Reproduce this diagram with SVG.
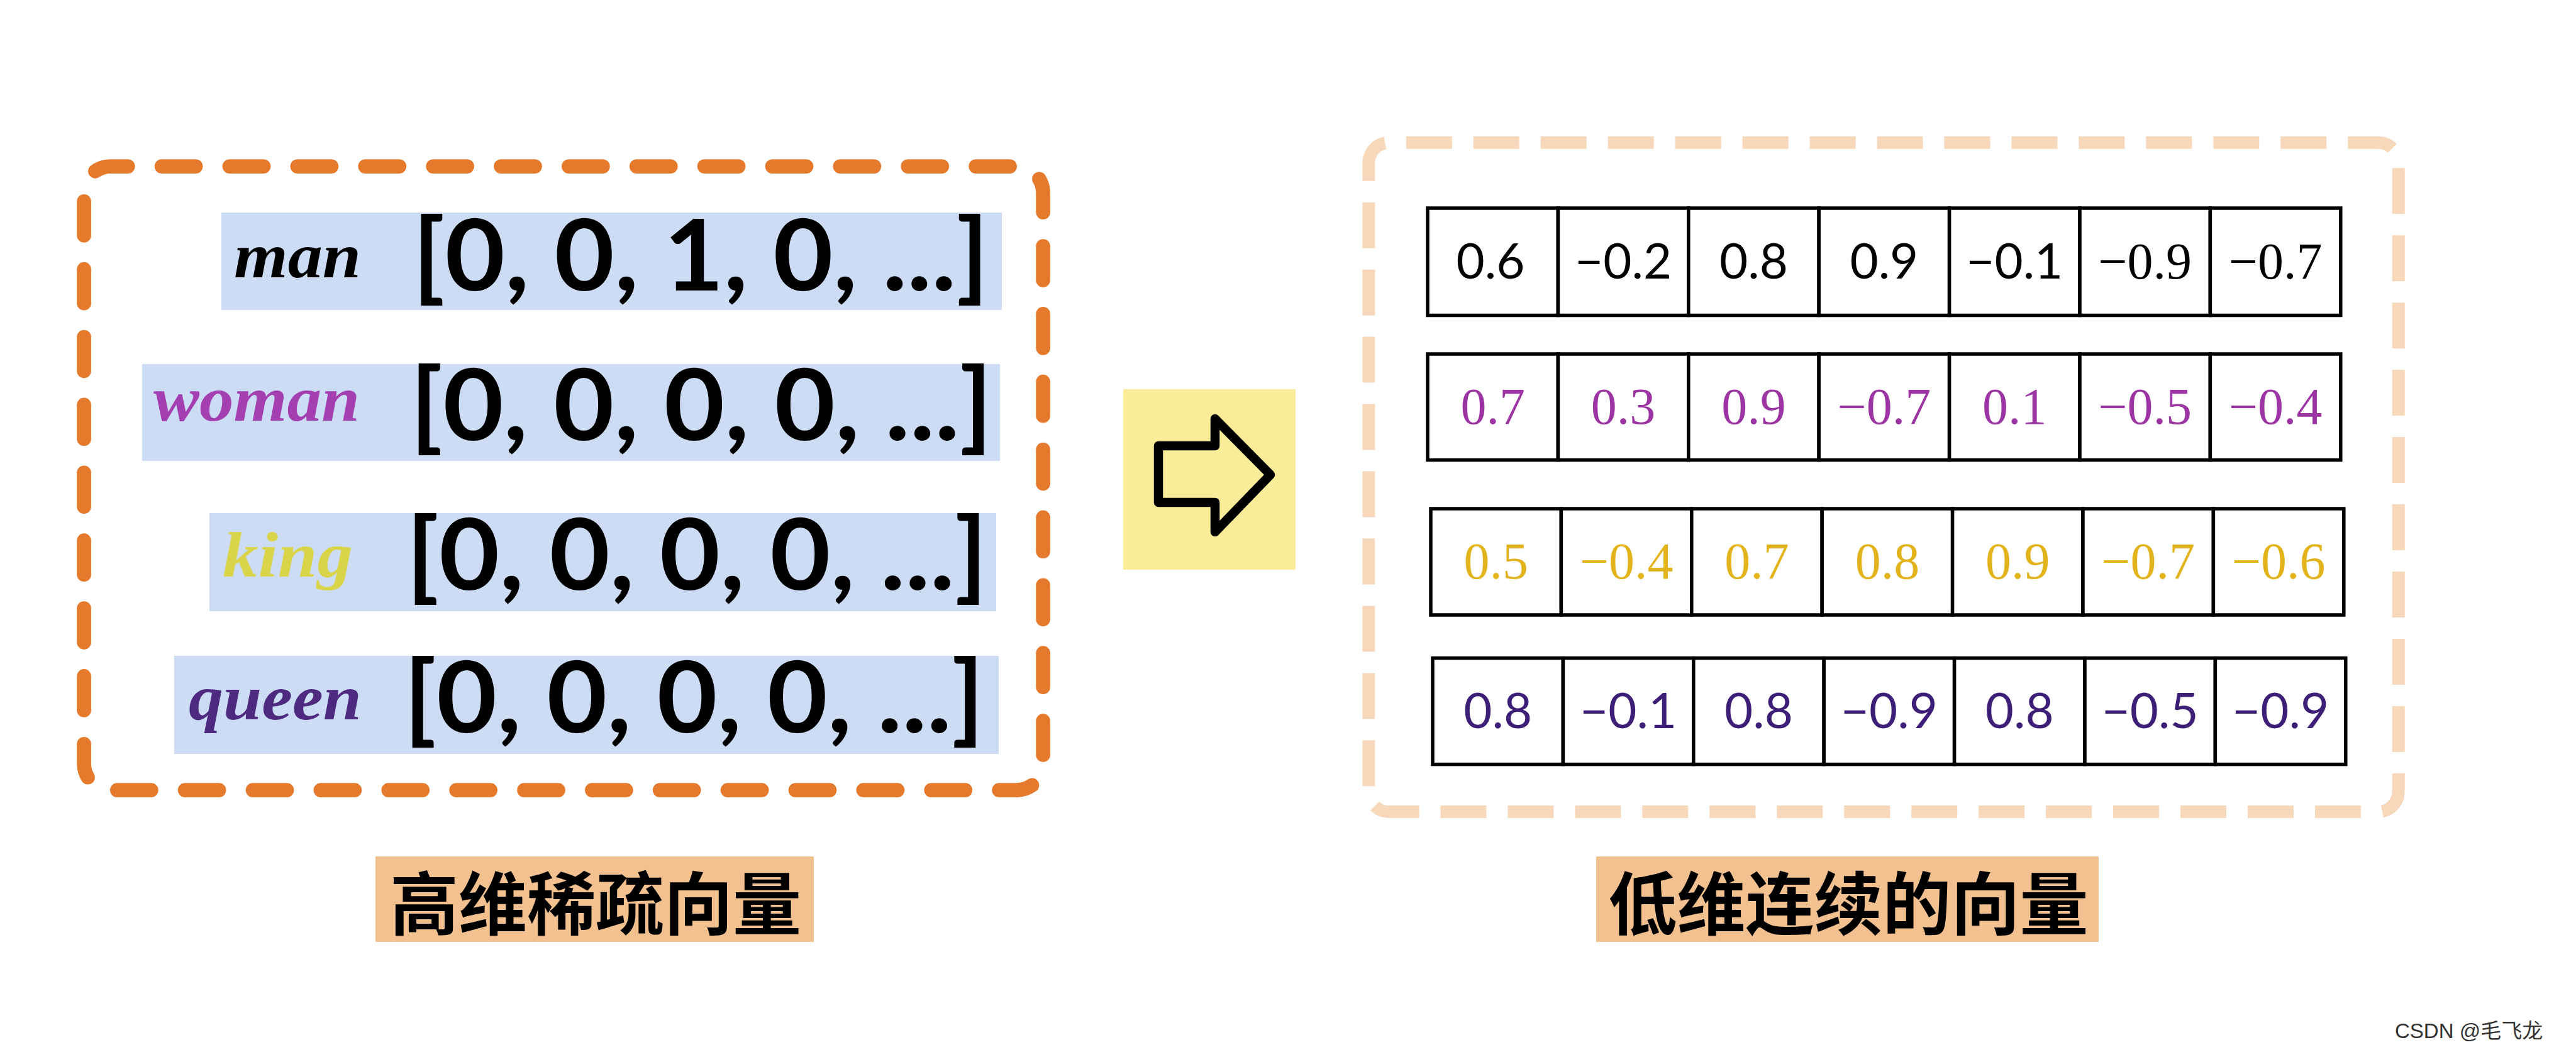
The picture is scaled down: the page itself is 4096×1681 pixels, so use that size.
<svg xmlns="http://www.w3.org/2000/svg" width="4096" height="1681" viewBox="0 0 4096 1681">
<style>
.bg{fill:#CCDCF5}
.lbl{font-family:"Liberation Serif","DejaVu Serif",serif;font-style:italic;font-weight:700;font-size:102px}
.arr{font-family:Lato,"Liberation Sans",sans-serif;font-weight:700;font-size:158px;fill:#000}
.cell{fill:#fff;stroke:#000;stroke-width:5.5}
.ns{font-family:Lato,"Liberation Sans",sans-serif;font-size:78px;text-anchor:middle}
.nr{font-family:"Liberation Serif","DejaVu Serif",serif;font-size:82px;text-anchor:middle}
.r1{fill:#000}.r2{fill:#9C35A3}.r3{fill:#E2B31A}.r4{fill:#3E1F77}
.cap{fill:#F3C190}
.capt{font-family:"Noto Sans CJK SC",sans-serif;font-weight:700;font-size:109px;fill:#000;text-anchor:middle;dominant-baseline:central}
</style>
<rect width="4096" height="1681" fill="#fff"/>

<g id="sparse-box">
<rect x="133.6" y="264.6" width="1525" height="992" rx="42" fill="none" stroke="#E67A2C" stroke-width="22.7" stroke-linecap="round" stroke-dasharray="54 53.87" stroke-dashoffset="26.3"/>
</g>

<g id="row-man">
<rect class="bg" x="352" y="338" width="1241" height="155"/>
<text class="lbl" x="372" y="441" fill="#000" textLength="202" lengthAdjust="spacingAndGlyphs">man</text>
<text class="arr" x="656" y="462" textLength="916" lengthAdjust="spacingAndGlyphs">[0, 0, 1, 0, ...]</text>
</g>
<g id="row-woman">
<rect class="bg" x="226" y="579" width="1364" height="154"/>
<text class="lbl" x="244" y="669" fill="#A43FB2" textLength="328" lengthAdjust="spacingAndGlyphs">woman</text>
<text class="arr" x="652" y="700" textLength="926" lengthAdjust="spacingAndGlyphs">[0, 0, 0, 0, ...]</text>
</g>
<g id="row-king">
<rect class="bg" x="333" y="816" width="1251" height="156"/>
<text class="lbl" x="354" y="917" fill="#D9D44A" textLength="207" lengthAdjust="spacingAndGlyphs">king</text>
<text class="arr" x="646" y="938" textLength="924" lengthAdjust="spacingAndGlyphs">[0, 0, 0, 0, ...]</text>
</g>
<g id="row-queen">
<rect class="bg" x="277" y="1043" width="1311" height="156"/>
<text class="lbl" x="300" y="1144" fill="#4D2A80" textLength="275" lengthAdjust="spacingAndGlyphs">queen</text>
<text class="arr" x="642" y="1165" textLength="923" lengthAdjust="spacingAndGlyphs">[0, 0, 0, 0, ...]</text>
</g>

<g id="connectors">
<g id="transform-arrow">
<rect x="1786" y="619" width="274" height="287" fill="#FAEC98"/>
<path d="M1842 709 L1932 709 L1932 666 L2020 755 L1932 846 L1932 799 L1842 799 Z" fill="none" stroke="#000" stroke-width="14.5" stroke-linejoin="round"/>
</g>
</g>

<g id="dense-box">
<rect x="2176.4" y="226.8" width="1637.2" height="1064.2" rx="32" fill="none" stroke="#F8D8BA" stroke-width="20" stroke-dasharray="73 33.96" stroke-dashoffset="-27.4"/>
</g>

<g id="vec-man">
<rect class="cell" x="2270" y="331" width="207.4" height="170.5"/>
<rect class="cell" x="2477.4" y="331" width="207.4" height="170.5"/>
<rect class="cell" x="2684.8" y="331" width="207.4" height="170.5"/>
<rect class="cell" x="2892.2" y="331" width="207.4" height="170.5"/>
<rect class="cell" x="3099.6" y="331" width="207.4" height="170.5"/>
<rect class="cell" x="3307" y="331" width="207.4" height="170.5"/>
<rect class="cell" x="3514.4" y="331" width="207.4" height="170.5"/>
<text class="ns r1" x="2370" y="443">0.6</text>
<text class="ns r1" x="2581.1" y="443">−0.2</text>
<text class="ns r1" x="2788.5" y="443">0.8</text>
<text class="ns r1" x="2995.9" y="443">0.9</text>
<text class="ns r1" x="3203.3" y="443">−0.1</text>
<text class="nr r1" x="3410.7" y="443">−0.9</text>
<text class="nr r1" x="3618.1" y="443">−0.7</text>
</g>
<g id="vec-woman">
<rect class="cell" x="2270" y="563" width="207.4" height="168.6"/>
<rect class="cell" x="2477.4" y="563" width="207.4" height="168.6"/>
<rect class="cell" x="2684.8" y="563" width="207.4" height="168.6"/>
<rect class="cell" x="2892.2" y="563" width="207.4" height="168.6"/>
<rect class="cell" x="3099.6" y="563" width="207.4" height="168.6"/>
<rect class="cell" x="3307" y="563" width="207.4" height="168.6"/>
<rect class="cell" x="3514.4" y="563" width="207.4" height="168.6"/>
<text class="nr r2" x="2373.7" y="674">0.7</text>
<text class="nr r2" x="2581.1" y="674">0.3</text>
<text class="nr r2" x="2788.5" y="674">0.9</text>
<text class="nr r2" x="2995.9" y="674">−0.7</text>
<text class="nr r2" x="3203.3" y="674">0.1</text>
<text class="nr r2" x="3410.7" y="674">−0.5</text>
<text class="nr r2" x="3618.1" y="674">−0.4</text>
</g>
<g id="vec-king">
<rect class="cell" x="2275" y="809" width="207.4" height="169"/>
<rect class="cell" x="2482.4" y="809" width="207.4" height="169"/>
<rect class="cell" x="2689.8" y="809" width="207.4" height="169"/>
<rect class="cell" x="2897.2" y="809" width="207.4" height="169"/>
<rect class="cell" x="3104.6" y="809" width="207.4" height="169"/>
<rect class="cell" x="3312" y="809" width="207.4" height="169"/>
<rect class="cell" x="3519.4" y="809" width="207.4" height="169"/>
<text class="nr r3" x="2378.7" y="920">0.5</text>
<text class="nr r3" x="2586.1" y="920">−0.4</text>
<text class="nr r3" x="2793.5" y="920">0.7</text>
<text class="nr r3" x="3000.9" y="920">0.8</text>
<text class="nr r3" x="3208.3" y="920">0.9</text>
<text class="nr r3" x="3415.7" y="920">−0.7</text>
<text class="nr r3" x="3623.1" y="920">−0.6</text>
</g>
<g id="vec-queen">
<rect class="cell" x="2278" y="1046.6" width="207.4" height="169"/>
<rect class="cell" x="2485.4" y="1046.6" width="207.4" height="169"/>
<rect class="cell" x="2692.8" y="1046.6" width="207.4" height="169"/>
<rect class="cell" x="2900.2" y="1046.6" width="207.4" height="169"/>
<rect class="cell" x="3107.6" y="1046.6" width="207.4" height="169"/>
<rect class="cell" x="3315" y="1046.6" width="207.4" height="169"/>
<rect class="cell" x="3522.4" y="1046.6" width="207.4" height="169"/>
<text class="ns r4" x="2381.7" y="1157.5">0.8</text>
<text class="ns r4" x="2589.1" y="1157.5">−0.1</text>
<text class="ns r4" x="2796.5" y="1157.5">0.8</text>
<text class="ns r4" x="3003.9" y="1157.5">−0.9</text>
<text class="ns r4" x="3211.3" y="1157.5">0.8</text>
<text class="ns r4" x="3418.7" y="1157.5">−0.5</text>
<text class="ns r4" x="3626.1" y="1157.5">−0.9</text>
</g>

<g id="caption-sparse">
<rect class="cap" x="597" y="1362" width="697" height="136"/>
<text class="capt" x="947" y="1430">高维稀疏向量</text>
</g>
<g id="caption-dense">
<rect class="cap" x="2538" y="1362" width="799" height="136"/>
<text class="capt" x="2939" y="1430">低维连续的向量</text>
</g>

<g id="watermark">
<text x="3808" y="1651" font-family="'Liberation Sans','Noto Sans CJK SC',sans-serif" font-size="33" fill="#333">CSDN @毛飞龙</text>
</g>
</svg>
